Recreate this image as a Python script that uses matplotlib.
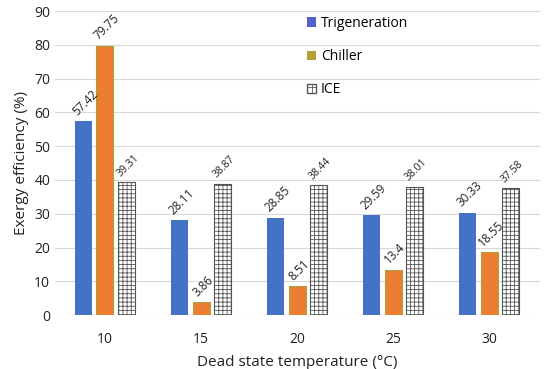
import matplotlib
matplotlib.use("Agg")
import matplotlib.pyplot as plt
import numpy as np
from matplotlib.patches import Patch

temps = ["10", "15", "20", "25", "30"]
trigeneration = [57.42, 28.11, 28.85, 29.59, 30.33]
chiller = [79.75, 3.86, 8.51, 13.4, 18.55]
ice = [39.31, 38.87, 38.44, 38.01, 37.58]

plt.rcParams['font.family'] = ['Open Sans', 'DejaVu Sans']
plt.rcParams['hatch.linewidth'] = 0.6

fig = plt.figure(figsize=(5.5, 3.69), dpi=100)
ax = fig.add_axes([0.10, 0.146, 0.882, 0.824])

x = np.arange(len(temps))
w = 0.177
step = 0.222

c_tri = "#4472C4"
c_ch = "#ED7D31"
c_ch_edge = "#A9A03A"

b1 = ax.bar(x - step, trigeneration, w, color=c_tri, zorder=3)
b2 = ax.bar(x, chiller, w, color=c_ch, edgecolor=c_ch_edge, linewidth=0.8, zorder=3)
b3 = ax.bar(x + step, ice, w, color="white", edgecolor="#555555", hatch="++++", linewidth=0.8, zorder=3)

for xi, v in zip(x - step, trigeneration):
    ax.text(xi + 0.02, v + 1, f"{v:g}", rotation=45, ha="center", va="bottom", fontsize=8.5, color="#222222")
for xi, v in zip(x, chiller):
    ax.text(xi + 0.02, v + 1, f"{v:g}", rotation=45, ha="center", va="bottom", fontsize=8.5, color="#222222")
for xi, v in zip(x + step, ice):
    ax.text(xi + 0.02, v + 1, f"{v:g}", rotation=45, ha="center", va="bottom", fontsize=7.5, color="#222222")

ax.set_ylim(0, 90)
ax.set_yticks(np.arange(0, 91, 10))
ax.set_xlim(-0.52, 4.53)
ax.set_xticks(x)
ax.set_xticklabels(temps)
ax.yaxis.grid(True, color="#D9D9D9", linewidth=0.8, zorder=0)
ax.set_axisbelow(True)
for s in ax.spines.values():
    s.set_visible(False)
ax.tick_params(axis="both", length=0, labelsize=10, colors="#222222")
ax.tick_params(axis="x", pad=12)
ax.set_ylabel("Exergy efficiency (%)", fontsize=11, color="#222222")
ax.set_xlabel("Dead state temperature (°C)", fontsize=11, color="#222222", labelpad=6)

handles = [Patch(facecolor="#5060C8", label="Trigeneration"),
           Patch(facecolor="#B5A035", label="Chiller"),
           Patch(facecolor="white", edgecolor="#555555", hatch="++", label="ICE")]
fig.legend(handles=handles, loc="upper left", bbox_to_anchor=(0.535, 0.99), frameon=False,
           fontsize=10, labelspacing=1.3, handlelength=0.7, handleheight=0.7, handletextpad=0.3)

fig.savefig("out.png", dpi=100)
